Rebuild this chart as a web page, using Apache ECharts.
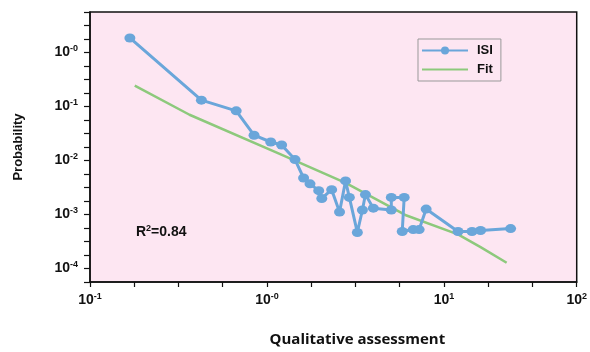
<!DOCTYPE html>
<html>
<head>
<meta charset="utf-8">
<script src="https://cdn.jsdelivr.net/npm/echarts@6/dist/echarts.min.js"></script>
<style>html,body{margin:0;padding:0;background:#fff}#c{width:590px;height:352px}</style>
</head>
<body>
<div id="c"></div>
<script>
// ISI data (qualitative assessment vs probability)
const isiX = [0.168, 0.426, 0.670, 0.845, 1.05, 1.21, 1.44, 1.61, 1.75, 1.96, 2.04, 2.32, 2.57, 2.78, 2.92, 3.24, 3.46, 3.60, 3.99, 5.04, 5.04, 5.96, 5.81, 6.70, 7.24, 7.93, 12.0, 14.4, 16.1, 23.8];
const isiY = [1.86, 0.131, 0.0830, 0.0294, 0.0220, 0.0194, 0.0104, 0.00474, 0.00370, 0.00276, 0.00198, 0.00288, 0.00111, 0.00419, 0.00207, 0.000465, 0.00121, 0.00234, 0.00131, 0.00121, 0.00207, 0.00207, 0.000484, 0.000526, 0.000526, 0.00126, 0.000484, 0.000484, 0.000505, 0.000548];
// Fit curve
const fitX = [0.179, 0.365, 1.17, 2.78, 6.04, 12.0, 16.1, 22.6];
const fitY = [0.244, 0.0703, 0.0134, 0.00385, 0.000980, 0.000428, 0.000249, 0.000128];
// tick labels (log10 position -> superscript text)
const xTickPos = [-1, 0, 1, 1.75];
const xTickSup = ['-1', '-0', '1', '2'];
const yTickPos = [0, -1, -2, -3, -4];
const yTickSup = ['-0', '-1', '-2', '-3', '-4'];
const r2Text = '0.84';

const chart = echarts.init(document.getElementById('c'), null, {renderer: 'canvas'});
const supRich = {
  b: {fontFamily: 'Liberation Sans', fontWeight: 'bold', fontSize: 14, color: '#111'},
  s: {fontFamily: 'Liberation Sans', fontWeight: 'bold', fontSize: 9, color: '#111', padding: [0, 0, 8, 0]}
};
function fmt(pos, sups) {
  return function (v) {
    for (let i = 0; i < pos.length; i++) if (Math.abs(v - pos[i]) < 1e-9) return '{b|10}{s|' + sups[i] + '}';
    return '';
  };
}
const isiData = isiX.map((x, i) => [Math.log10(x), Math.log10(isiY[i])]);
const fitData = fitX.map((x, i) => [Math.log10(x), Math.log10(fitY[i])]);

chart.setOption({
  animation: false,
  backgroundColor: '#ffffff',
  grid: {left: 90, right: 12, top: 12, bottom: 64, show: true, backgroundColor: '#fde6f2', borderColor: '#111', borderWidth: 1.5},
  xAxis: {
    type: 'value', min: -1, max: 1.75, interval: 0.25,
    name: 'Qualitative assessment', nameLocation: 'middle', nameGap: 50,
    nameTextStyle: {fontFamily: 'Open Sans', fontWeight: 'bold', fontSize: 15, color: '#111', padding: [0, 0, 0, 48]},
    axisLine: {show: true, onZero: false, lineStyle: {color: '#111', width: 1.5}},
    axisTick: {show: true, interval: 0, length: 5, lineStyle: {color: '#111', width: 1.2}},
    splitLine: {show: false},
    axisLabel: {interval: 0, showMinLabel: true, showMaxLabel: true, margin: 10, formatter: fmt(xTickPos, xTickSup), rich: supRich}
  },
  yAxis: {
    type: 'value', min: -4.25, max: 0.75, interval: 0.25,
    name: 'Probability', nameLocation: 'middle', nameGap: 65, nameRotate: 90,
    nameTextStyle: {fontFamily: 'Liberation Sans', fontWeight: 'bold', fontSize: 13, color: '#111'},
    axisLine: {show: true, onZero: false, lineStyle: {color: '#111', width: 1.5}},
    axisTick: {show: true, interval: 0, length: 6, lineStyle: {color: '#111', width: 1.2}},
    splitLine: {show: false},
    axisLabel: {interval: 0, margin: 12, formatter: fmt(yTickPos, yTickSup), rich: supRich}
  },
  legend: {
    left: 418, top: 39, orient: 'vertical', itemWidth: 46, itemHeight: 10, itemGap: 6,
    padding: [5, 8, 5, 3], borderColor: '#999', borderWidth: 1, backgroundColor: 'transparent',
    textStyle: {fontFamily: 'Liberation Sans', fontWeight: 'bold', fontSize: 13, color: '#111', padding: [0, 0, 0, 4]},
    data: ['ISI', {name: 'Fit', itemStyle: {opacity: 0}}]
  },
  graphic: [{
    type: 'text', left: 136, top: 224,
    style: {
      text: '{b|R}{s|2}{b|=' + r2Text + '}',
      rich: {
        b: {fontFamily: 'Liberation Sans', fontWeight: 'bold', fontSize: 14, fill: '#111'},
        s: {fontFamily: 'Liberation Sans', fontWeight: 'bold', fontSize: 9, fill: '#111', padding: [0, 0, 8, 0]}
      }
    }
  }],
  series: [
    {
      name: 'ISI', type: 'line', data: isiData, symbol: 'circle', symbolSize: [11, 9],
      itemStyle: {color: '#6aa6da'}, lineStyle: {color: '#6aa6da', width: 3}, z: 3
    },
    {
      name: 'Fit', type: 'line', data: fitData, symbol: 'none',
      itemStyle: {color: '#8dc97c'}, lineStyle: {color: '#8dc97c', width: 2.5}, z: 2
    }
  ]
});
</script>
</body>
</html>
